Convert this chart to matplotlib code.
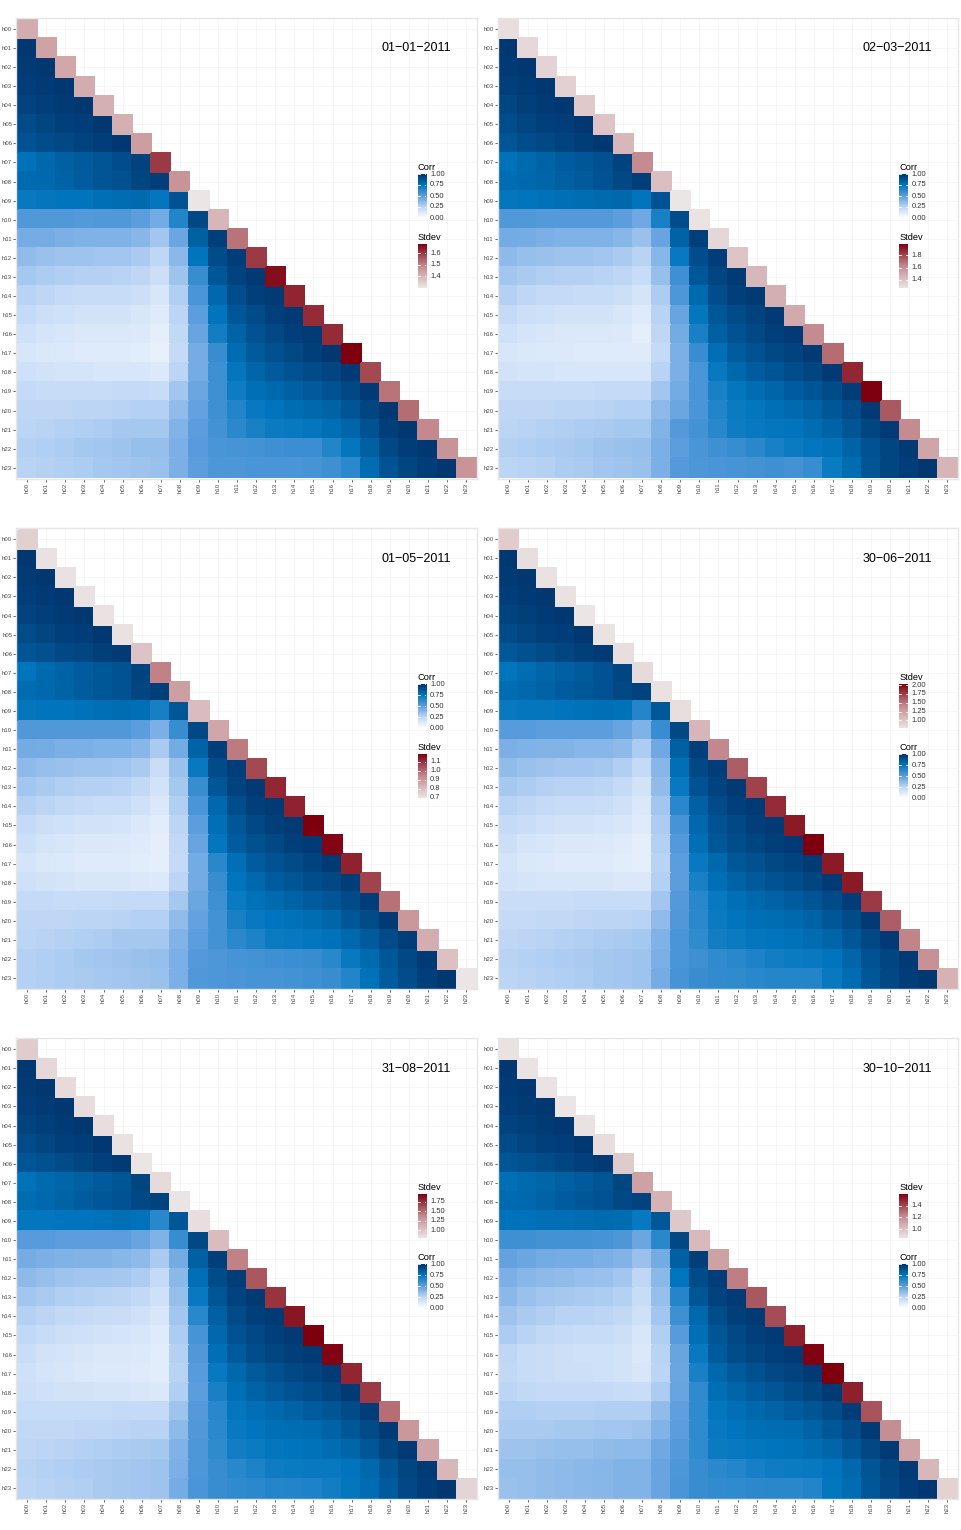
import numpy as np
import matplotlib
matplotlib.use('Agg')
import matplotlib.pyplot as plt
from matplotlib.colors import LinearSegmentedColormap, Normalize
from matplotlib.transforms import blended_transform_factory

plt.rcParams['font.family'] = ['Liberation Sans', 'DejaVu Sans']

hours = ['h%02d' % i for i in range(24)]

# lower triangle of the hourly correlation matrix, in percent (row h01 .. h23)
corr_0101 = """
98
97 98
96 97 98
94 95 97 98
91 93 95 96 98
88 90 92 94 96 98
76 80 83 85 87 90 94
79 80 82 84 87 89 93 95
73 74 75 75 77 78 79 74 88
53 53 53 52 53 53 50 44 66 92
43 43 42 41 41 41 39 32 46 83 95
36 34 33 33 32 32 30 24 38 75 91 96
31 29 28 27 27 26 24 19 33 60 86 94 97
26 24 22 21 21 21 19 15 28 55 80 90 95 97
22 19 18 17 17 17 15 12 25 50 75 86 91 95 97
18 16 15 14 14 14 13 10 23 47 70 82 88 92 95 97
15 14 13 12 12 12 11 09 22 43 60 78 85 89 92 95 98
18 17 16 16 15 15 15 13 25 43 58 74 81 85 88 91 93 97
22 21 21 21 21 22 22 21 32 46 58 71 77 80 83 85 88 92 97
24 24 24 25 25 26 27 27 36 48 58 66 73 75 78 80 82 87 93 98
25 26 27 28 29 31 31 31 40 50 57 63 68 72 73 74 77 81 88 95 98
27 28 29 31 32 33 35 35 42 51 55 56 57 58 59 59 66 74 83 92 96 98
26 27 28 29 31 32 33 34 42 50 54 54 55 55 55 56 58 63 78 88 93 96 98
"""

corr_0203 = """
98
97 98
95 97 98
93 95 97 98
90 93 95 96 98
87 90 92 94 96 98
76 79 82 84 86 89 94
78 80 81 83 85 88 92 95
74 75 76 77 78 79 80 75 88
53 53 52 52 52 52 50 45 68 90
44 43 42 41 41 41 39 34 47 82 95
37 35 34 33 33 32 30 26 39 73 90 96
32 30 28 27 27 26 24 21 35 58 86 93 97
27 24 22 22 21 21 19 16 29 54 79 90 95 97
22 19 18 17 17 17 15 12 26 47 74 86 91 94 97
18 16 15 14 14 14 13 10 24 44 68 83 88 92 95 97
15 14 13 13 12 12 12 12 22 42 60 77 84 88 92 94 97
17 16 16 15 15 15 15 15 26 42 55 73 80 84 87 90 93 97
21 21 21 21 21 22 22 22 32 44 55 68 74 78 81 84 87 91 96
24 24 24 25 25 26 27 27 37 46 55 66 72 74 77 79 82 86 91 97
25 26 27 28 29 30 31 31 40 52 57 64 71 73 74 75 78 82 87 93 97
27 28 29 30 31 33 34 35 42 50 55 58 60 64 68 72 74 76 82 88 93 97
25 26 27 29 30 32 33 34 42 52 54 55 56 57 58 57 60 72 78 87 93 96 98
"""

corr_0105 = """
98
97 98
96 97 98
94 95 97 98
91 93 95 96 98
87 89 92 93 95 97
75 79 82 84 86 88 94
78 80 82 84 86 88 93 95
74 75 75 76 77 78 77 69 86
53 53 53 53 53 53 50 42 60 92
44 43 42 42 41 41 39 30 44 82 95
37 35 34 33 33 32 30 20 34 73 91 96
32 30 28 27 27 26 23 17 31 60 86 94 97
27 25 23 22 21 21 18 14 28 55 80 90 95 97
22 19 18 17 17 16 14 11 25 50 77 86 92 95 97
19 16 15 14 14 13 12 10 23 47 74 84 89 92 95 97
16 14 13 12 12 12 11 10 22 44 64 77 84 88 91 94 97
18 17 16 15 15 15 14 13 25 44 60 75 80 84 87 90 92 96
22 22 21 21 21 22 22 22 31 46 58 72 76 79 82 84 87 91 96
24 24 24 25 25 26 27 27 36 48 57 68 73 75 76 78 81 86 91 97
25 26 27 28 29 31 31 31 40 50 57 63 67 72 73 74 76 80 85 91 96
27 28 29 31 32 33 34 35 42 52 54 56 57 58 59 60 64 73 79 86 92 97
27 28 29 30 31 32 33 34 42 53 54 55 56 56 57 58 60 66 76 84 90 95 98
"""

corr_3006 = """
98
97 98
96 97 98
94 95 97 98
91 93 95 96 98
86 89 91 93 95 97
75 78 81 83 85 88 93
78 80 82 84 86 88 92 94
73 74 74 75 76 77 76 65 86
51 51 50 50 50 50 47 41 60 92
42 41 40 40 39 39 37 29 45 83 95
36 34 33 32 32 31 28 22 39 77 92 96
31 29 27 26 26 25 22 17 36 73 88 94 97
26 24 22 21 21 20 18 14 32 64 83 91 95 97
22 20 18 17 17 16 15 12 29 56 80 88 92 95 97
19 16 15 14 14 13 12 10 27 52 77 86 90 93 95 97
16 14 13 12 12 12 11 10 26 50 73 80 86 89 92 94 97
17 16 15 15 15 15 14 14 27 50 68 77 82 85 88 90 93 97
20 20 20 20 21 21 21 21 32 52 64 73 77 80 82 84 87 91 96
22 22 23 23 24 25 25 26 36 53 63 72 75 77 78 80 82 86 91 97
24 25 26 27 28 29 30 31 41 55 62 70 72 74 75 76 78 81 86 92 97
26 27 28 29 30 31 32 33 42 55 58 62 64 67 70 72 73 75 81 88 93 97
25 26 27 28 29 31 32 33 43 56 60 61 62 64 65 65 66 73 78 86 92 96 98
"""

corr_3108 = """
98
97 98
96 97 98
94 95 97 98
91 93 95 96 98
87 89 91 93 95 97
76 79 81 83 85 87 93
78 80 82 84 86 88 92 94
74 74 75 75 76 77 76 64 86
51 51 50 50 50 50 47 41 60 92
43 42 41 40 40 39 37 30 44 83 95
37 35 33 32 32 31 29 22 38 77 91 96
32 30 28 27 26 25 23 18 35 73 87 94 97
27 25 23 22 21 20 18 15 32 64 83 91 95 97
23 21 19 18 17 16 15 12 29 56 80 88 92 95 97
20 17 16 15 14 14 13 11 27 53 77 85 90 93 95 97
18 16 15 14 13 13 12 11 26 51 73 80 85 89 92 94 97
19 18 17 17 16 16 15 14 28 50 68 77 82 85 88 90 93 97
21 21 21 21 21 22 22 22 33 52 64 74 77 80 82 84 87 91 96
23 23 23 24 24 25 26 26 37 53 63 73 75 77 78 79 82 86 91 97
24 25 26 27 28 29 30 31 41 54 62 70 72 74 75 76 78 81 86 93 97
26 27 28 29 30 31 32 33 42 54 60 64 67 71 72 73 73 75 80 87 93 97
25 26 27 28 30 31 32 33 43 55 60 62 63 65 66 67 70 74 78 85 92 96 98
"""

corr_3010 = """
98
97 98
96 97 98
94 95 97 98
91 93 95 96 98
87 89 91 93 95 97
77 79 81 83 85 87 93
79 80 82 84 86 88 92 94
76 76 77 77 78 79 78 73 86
58 58 57 57 57 56 54 46 64 92
48 46 44 43 43 42 40 34 44 83 95
42 39 37 36 35 34 32 24 38 75 91 96
38 34 32 31 30 29 27 21 35 65 87 94 97
33 30 28 26 26 25 23 18 32 58 80 90 95 97
29 26 23 22 21 21 19 15 28 51 77 87 92 95 97
24 21 20 19 18 18 17 14 26 47 73 85 90 93 95 97
23 21 20 19 19 18 17 15 25 46 68 80 85 89 92 94 97
25 23 22 22 22 22 21 20 29 47 62 77 81 84 87 90 93 97
28 28 27 27 27 28 28 28 36 49 62 74 77 80 82 84 87 91 96
30 30 30 31 31 32 32 33 40 50 62 73 75 77 78 79 82 86 91 97
33 33 34 35 35 36 37 37 45 52 62 72 73 74 75 76 78 81 86 92 97
35 35 36 37 38 39 40 40 47 54 60 63 65 69 71 72 73 75 80 87 93 97
34 35 36 37 38 39 40 40 47 55 60 61 62 63 64 64 66 74 78 86 92 96 98
"""

# standard deviation per hour (diagonal)
sd_0101 = [1.42, 1.44, 1.43, 1.42, 1.41, 1.41, 1.45, 1.60, 1.47, 1.30, 1.40, 1.52,
           1.60, 1.66, 1.63, 1.62, 1.62, 1.68, 1.58, 1.52, 1.53, 1.49, 1.47, 1.47]
sd_0203 = [1.30, 1.32, 1.34, 1.35, 1.38, 1.40, 1.45, 1.62, 1.42, 1.27, 1.28, 1.33,
           1.40, 1.45, 1.48, 1.50, 1.62, 1.70, 1.88, 1.98, 1.75, 1.62, 1.52, 1.46]
sd_0105 = [0.75, 0.70, 0.70, 0.70, 0.70, 0.70, 0.78, 0.95, 0.88, 0.80, 0.86, 0.96,
           1.05, 1.11, 1.12, 1.18, 1.17, 1.12, 1.06, 0.98, 0.90, 0.84, 0.79, 0.69]
sd_3006 = [0.95, 0.82, 0.80, 0.80, 0.77, 0.79, 0.82, 0.85, 0.80, 0.82, 1.10, 1.40,
           1.60, 1.72, 1.82, 1.90, 2.02, 1.90, 1.90, 1.76, 1.60, 1.42, 1.35, 1.12]
sd_3108 = [0.95, 0.88, 0.86, 0.85, 0.84, 0.82, 0.79, 0.86, 0.80, 0.84, 1.05, 1.40,
           1.58, 1.72, 1.85, 1.94, 1.92, 1.78, 1.70, 1.48, 1.28, 1.20, 1.08, 0.90]
sd_3010 = [0.86, 0.85, 0.85, 0.84, 0.86, 0.88, 0.95, 1.12, 1.05, 0.96, 1.02, 1.12,
           1.25, 1.35, 1.38, 1.50, 1.58, 1.59, 1.50, 1.36, 1.20, 1.12, 1.03, 0.92]

sd_ticks_0101 = ['1.4', '1.5', '1.6']
sd_ticks_0203 = ['1.4', '1.6', '1.8']
sd_ticks_0105 = ['0.7', '0.8', '0.9', '1.0', '1.1']
sd_ticks_3006 = ['1.00', '1.25', '1.50', '1.75', '2.00']
sd_ticks_3108 = ['1.00', '1.25', '1.50', '1.75']
sd_ticks_3010 = ['1.0', '1.2', '1.4']
corr_ticks = ['0.00', '0.25', '0.50', '0.75', '1.00']

dates = ['01\u221201\u22122011', '02\u221203\u22122011', '01\u221205\u22122011',
         '30\u221206\u22122011', '31\u221208\u22122011', '30\u221210\u22122011']

panels = [
    (dates[0], corr_0101, sd_0101, sd_ticks_0101, False),
    (dates[1], corr_0203, sd_0203, sd_ticks_0203, False),
    (dates[2], corr_0105, sd_0105, sd_ticks_0105, False),
    (dates[3], corr_3006, sd_3006, sd_ticks_3006, True),
    (dates[4], corr_3108, sd_3108, sd_ticks_3108, True),
    (dates[5], corr_3010, sd_3010, sd_ticks_3010, True),
]

corr_cmap = LinearSegmentedColormap.from_list(
    'corr', [(0, '#ffffff'), (0.25, '#bcd5f5'), (0.5, '#5c9ddd'), (0.75, '#0075bd'), (1, '#01336b')])
sd_cmap = LinearSegmentedColormap.from_list('sd', ['#ece5e5', '#c48a8f', '#7e000f'])

W, H = 962, 1530
fig = plt.figure(figsize=(W / 100, H / 100), dpi=100)


def box(x0, y0, x1, y1):
    return [x0 / W, 1 - y1 / H, (x1 - x0) / W, (y1 - y0) / H]


def parse(txt):
    m = np.full((24, 24), np.nan)
    for i, r in enumerate(txt.strip().splitlines(), start=1):
        vals = r.split()
        m[i, :i] = [int(v) / 100 for v in vals]
    return m


def colorbar(x0, y0, cmap, vmin, vmax, labels, title):
    fig.text(x0 / W, 1 - (y0 - 7) / H, title, fontsize=6.7, ha='left', va='center')
    cax = fig.add_axes(box(x0, y0, x0 + 8.4, y0 + 44))
    grad = np.linspace(vmin, vmax, 256)[:, None]
    cax.imshow(grad, aspect='auto', cmap=cmap, norm=Normalize(vmin, vmax),
               origin='lower', extent=[0, 1, vmin, vmax], interpolation='bilinear')
    tr = blended_transform_factory(cax.transAxes, cax.transData)
    for lab in labels:
        t = float(lab)
        cax.plot([0, 0.2], [t, t], color='white', lw=0.6)
        cax.plot([0.8, 1], [t, t], color='white', lw=0.6)
        cax.text(1.45, t, lab, transform=tr, fontsize=5.4, color='#333333', va='center', ha='left')
    cax.set_xlim(0, 1)
    cax.set_ylim(vmin, vmax)
    cax.axis('off')


col_x = [17.7, 499.0]
row_y = [19.3, 529.7, 1039.7]
size = 458.0
pad = 1.4
pad_d = pad / (size / 24)
edges = np.arange(25) - 0.5

for k, (title, corr_txt, sd, sd_ticks, sd_first) in enumerate(panels):
    x0 = col_x[k % 2]
    y0 = row_y[k // 2]
    ax = fig.add_axes(box(x0 - pad, y0 - pad, x0 + size + pad, y0 + size + pad))

    corr = parse(corr_txt)
    diag = np.full((24, 24), np.nan)
    diag[np.arange(24), np.arange(24)] = sd
    sd_min, sd_max = min(sd), max(sd)

    for v in range(24):
        ax.axvline(v, color='#f3f3f3', lw=0.5, zorder=0)
        ax.axhline(v, color='#f3f3f3', lw=0.5, zorder=0)
    ax.pcolormesh(edges, edges, np.ma.masked_invalid(corr), cmap=corr_cmap, vmin=0, vmax=1,
                  edgecolors='face', linewidth=0.2, zorder=1)
    ax.pcolormesh(edges, edges, np.ma.masked_invalid(diag), cmap=sd_cmap, vmin=sd_min, vmax=sd_max,
                  edgecolors='face', linewidth=0.2, zorder=1)

    ax.set_xlim(-0.5 - pad_d, 23.5 + pad_d)
    ax.set_ylim(23.5 + pad_d, -0.5 - pad_d)
    ax.set_xticks(range(24))
    ax.set_yticks(range(24))
    ax.set_xticklabels(hours, rotation=90, fontsize=4.3, color='#4d4d4d')
    ax.set_yticklabels(hours, fontsize=4.3, color='#4d4d4d')
    ax.tick_params(length=2, width=0.5, color='#333333', pad=1)
    for s in ax.spines.values():
        s.set_color('#e6e6e6')
        s.set_linewidth(1.0)

    fig.text((x0 + 433.3) / W, 1 - (y0 + 29) / H, title, fontsize=9, ha='right', va='center')

    lx = x0 + 400.3
    first_y, second_y = y0 + 154.7, y0 + 224.7
    if sd_first:
        colorbar(lx, first_y, sd_cmap, sd_min, sd_max, sd_ticks, 'Stdev')
        colorbar(lx, second_y, corr_cmap, 0, 1, corr_ticks, 'Corr')
    else:
        colorbar(lx, first_y, corr_cmap, 0, 1, corr_ticks, 'Corr')
        colorbar(lx, second_y, sd_cmap, sd_min, sd_max, sd_ticks, 'Stdev')

fig.savefig('out.png', dpi=100)
